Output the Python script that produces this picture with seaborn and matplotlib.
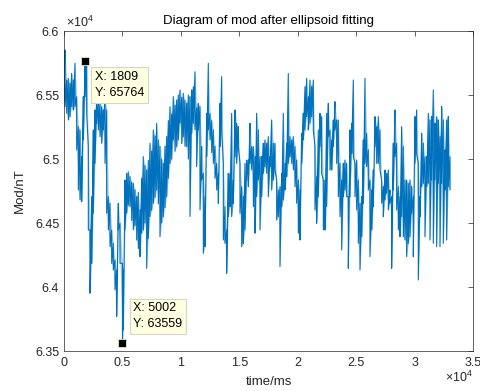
import matplotlib
matplotlib.use('Agg')
import matplotlib.pyplot as plt
import seaborn as sns
import pandas as pd

time_ms = [
    0, 86, 228, 371, 514, 656, 799, 941, 1084, 1227, 1369,
    1512, 1654, 1809, 1940, 2082, 2225, 2367, 2510, 2653, 2795,
    2938, 3080, 3223, 3366, 3508, 3651, 3793, 3936, 4079, 4221,
    4364, 4506, 4649, 4792, 5002, 5077, 5219, 5362, 5500, 5647,
    5790, 5932, 6075, 6218, 6360, 6503, 6645, 6788, 6930, 7073,
    7215, 7358, 7500, 7644, 7786, 7929, 8070, 8214, 8355, 8499,
    8640, 8784, 8930, 9070, 9210, 9355, 9500, 9640, 9780, 9925,
    10070, 10210, 10350, 10496, 10640,
    10782, 10925, 11067, 11210, 11350, 11495, 11638, 11780, 11923, 12065,
    12208, 12351, 12493, 12636, 12778, 12920, 13064, 13206, 13349, 13491,
    13634, 13777, 13919, 14062, 14204, 14347, 14490, 14632, 14775, 14917,
    15060, 15203, 15345, 15488, 15630, 15773, 15916, 16058, 16201, 16343,
    16486, 16628, 16771, 16914, 17056, 17199, 17342, 17484, 17627, 17769,
    17912, 18055, 18197, 18340, 18482, 18625, 18768, 18910, 19053, 19195,
    19338, 19481, 19623, 19766, 19908, 20051, 20194, 20336, 20479, 20621,
    20764, 20907, 21049, 21192, 21334, 21477, 21620, 21762,
    21906, 22049, 22191, 22334, 22476, 22619, 22762, 22904, 23047, 23189,
    23332, 23475, 23617, 23760, 23902, 24045, 24188, 24330, 24473, 24615,
    24758, 24901, 25043, 25186, 25328, 25471, 25614, 25756, 25899, 26041,
    26184, 26327, 26469, 26612, 26754, 26897, 27040, 27182, 27325, 27467,
    27610, 27753, 27895, 28038, 28180, 28323, 28466, 28608, 28751, 28893,
    29036, 29179, 29321, 29464, 29606, 29749, 29892, 30034, 30177, 30319,
    30462, 30605, 30747, 30890, 31032, 31175, 31318, 31460, 31603, 31745,
    31888, 32031, 32173, 32316, 32458, 32601, 32744, 32886, 33029,
]
mod_high = [
    65560, 65852, 65617, 65630, 65591, 65669, 65617, 65748, 65487, 65253, 65227,
    65018, 65487, 65764, 65748, 65097, 64446, 64706, 65227, 65383, 65487,
    65461, 65435, 65409, 65383, 65487, 65383, 64706, 64654, 64446, 64341,
    64211, 64133, 64654, 64498, 64185, 64133, 64836, 64888, 64900, 64862,
    64820, 64810, 64760, 64706, 64740, 64602, 64850, 65018, 64950, 64914,
    64990, 65123, 65060, 65227, 65180, 65279, 65150, 65097, 65000, 64966,
    65100, 65175, 65300, 65409, 65350, 65487, 65420, 65461, 65500, 65539,
    65480, 65513, 65460, 65435, 65500,
    65487, 65540, 65565, 65682, 65400, 65435, 65409, 65097, 64888, 64706,
    65357, 65748, 65357, 65300, 65227, 65100, 64966, 64888, 65435, 65643,
    64966, 64628, 64446, 64888, 64888, 65357, 64836, 65383, 65279, 65253,
    64966, 64784, 64706, 64966, 64992, 64992, 65279, 65097, 65097, 65018,
    65357, 65227, 65018, 65018, 65123, 65149, 65123, 65175, 65018, 65305,
    65123, 65123, 64836, 64758, 64784, 64888, 65357, 64966, 65123, 65669,
    65175, 65149, 65175, 65097, 64992, 64836, 64758, 65201, 65357, 65565,
    65630, 65487, 65617, 65565, 65617, 65097, 64862, 65227,
    65357, 65331, 64836, 64836, 65357, 65435, 65227, 65149, 65305, 65448,
    65305, 65305, 64966, 64836, 64966, 64992, 64966, 64706, 65227, 65279,
    65617, 64966, 64992, 64836, 64654, 64706, 65149, 65630, 65201, 65071,
    64836, 64758, 64914, 65331, 65253, 65331, 65227, 64836, 64784, 64914,
    64888, 64914, 64758, 64706, 65123, 65383, 65123, 64784, 64706, 65253,
    65097, 64836, 64836, 64810, 64836, 64784, 64706, 65331, 65383, 64966,
    64706, 65201, 65123, 65018, 65018, 65357, 65305, 65331, 65539, 65279,
    65331, 65305, 65175, 65409, 65305, 65071, 65305, 65331, 65018,
]
mod_low = [
    65450, 65409, 65357, 65305, 65331, 65409, 65383, 65409, 65071, 64758, 64680,
    64667, 65149, 65487, 65357, 64446, 63951, 64185, 64576, 64966, 65279,
    65227, 65175, 65123, 65227, 64966, 64576, 64446, 64315, 64185, 64133,
    63977, 63769, 64446, 64185, 63559, 63664, 64446, 64576, 64640, 64628,
    64520, 64446, 64480, 64367, 64300, 64237, 64420, 64446, 64500, 64146,
    64380, 64550, 64600, 64654, 64700, 64758, 64650, 64393, 64500, 64550,
    64620, 64706, 64850, 64966, 65000, 65149, 65060, 65097, 65150, 65279,
    65120, 65175, 65100, 65097, 65000,
    64550, 65200, 65279, 65227, 64940, 65227, 64602, 64836, 64263, 64315,
    65018, 65227, 65149, 65050, 64966, 64850, 64758, 64654, 65097, 65227,
    64367, 64341, 64107, 64550, 64628, 64550, 64654, 65018, 64966, 65097,
    64576, 64315, 64341, 64446, 64836, 64784, 64966, 64914, 64628, 64420,
    64706, 64836, 64446, 64706, 64888, 64940, 64888, 64706, 64940, 64758,
    64836, 64914, 64524, 64550, 64159, 64628, 64680, 64758, 64862, 64966,
    65018, 64966, 64914, 64784, 64654, 64420, 64367, 64966, 65149, 65227,
    65331, 65227, 65279, 65331, 65227, 64602, 64498, 64706,
    65097, 64888, 64446, 64446, 64628, 65175, 64914, 64914, 65097, 65227,
    64966, 64706, 64550, 64289, 64706, 64758, 64706, 64146, 64706, 65045,
    65018, 64706, 64602, 64341, 64133, 64393, 64654, 64966, 64940, 64758,
    64237, 64446, 64628, 65097, 64966, 64966, 64914, 64654, 64550, 64680,
    64732, 64602, 64654, 64146, 64758, 65018, 64602, 64446, 64393, 64550,
    64393, 64367, 64237, 64341, 64393, 64576, 64237, 64966, 65045, 64055,
    64550, 64784, 64810, 64393, 64784, 64810, 64367, 64836, 64341, 64836,
    64315, 64810, 64315, 64810, 64341, 64758, 64367, 64784, 64758,
]
assert len(time_ms) == len(mod_high) == len(mod_low)

# data tips
tip_time = [1809, 5002]
tip_mod = [65764, 63559]

x_ticks = [0, 5000, 10000, 15000, 20000, 25000, 30000, 35000]
x_tick_labels = ['0', '0.5', '1', '1.5', '2', '2.5', '3', '3.5']
y_ticks = [63500, 64000, 64500, 65000, 65500, 66000]
y_tick_labels = ['6.35', '6.4', '6.45', '6.5', '6.55', '6.6']

sns.set_style('white')
plt.rcParams['font.family'] = ['Liberation Sans', 'DejaVu Sans']
plt.rcParams['mathtext.fontset'] = 'custom'
plt.rcParams['mathtext.rm'] = 'Liberation Sans'
plt.rcParams['mathtext.it'] = 'Liberation Sans:italic'

# simple zig-zag hi -> lo -> hi ... so the trace looks like the dense original
tt, vv = [], []
for t, hi, lo in zip(time_ms, mod_high, mod_low):
    tt += [t, t]
    vv += [hi, lo]
trace = pd.DataFrame({'time': tt, 'mod': vv})

dark = '#262626'
blue = '#0072BD'
fig = plt.figure(figsize=(4.8, 3.91), dpi=100)
ax = fig.add_axes([64 / 480, 40 / 391, 409 / 480, 320 / 391])

ax.fill_between(time_ms, mod_low, mod_high, color=blue, alpha=0.35, linewidth=0)
sns.lineplot(data=trace, x='time', y='mod', ax=ax, sort=False, estimator=None,
             color=blue, linewidth=0.8)

ax.plot(tip_time, tip_mod, linestyle='none', marker='s', markersize=5.8,
        markerfacecolor='black', markeredgecolor='#e6e6c8', markeredgewidth=0.6, zorder=5)

offsets = [(10, -10), (11, 41)]
for t, v, off in zip(tip_time, tip_mod, offsets):
    ax.annotate(f'X: {t}\nY: {v}', xy=(t, v), xytext=off, textcoords='offset pixels',
                ha='left', va='top', fontsize=9, color='black', linespacing=1.45,
                bbox=dict(boxstyle='square,pad=0.3', facecolor='#ffffe1',
                          edgecolor='#d6d6c2', linewidth=0.8), zorder=6)

ax.set_xlim(0, 35000)
ax.set_ylim(63500, 66000)
ax.set_xticks(x_ticks)
ax.set_xticklabels(x_tick_labels)
ax.set_yticks(y_ticks)
ax.set_yticklabels(y_tick_labels)
ax.tick_params(direction='in', top=True, right=True, length=3.5, width=0.5,
               colors=dark, labelsize=9, pad=4)
ax.tick_params(axis='y', pad=3.5)
for s in ax.spines.values():
    s.set_color(dark)
    s.set_linewidth(0.5)

ax.set_title('Diagram of mod after ellipsoid fitting', fontsize=9.5, color='black', pad=5)
ax.set_xlabel('time/ms', fontsize=9.5, color=dark)
ax.set_ylabel('Mod/nT', fontsize=9.5, color=dark)
ax.xaxis.set_label_coords(0.5, -0.078)
ax.yaxis.set_label_coords(-0.093, 0.5)

# exponent labels like MATLAB
ax.text(0.006, 1.026, r'$\times10^{4}$', transform=ax.transAxes, ha='left', va='center',
        fontsize=9, color=dark)
ax.text(1.0, -0.081, r'$\times10^{4}$', transform=ax.transAxes, ha='right', va='center',
        fontsize=9, color=dark)

fig.savefig('out.png', dpi=100)
